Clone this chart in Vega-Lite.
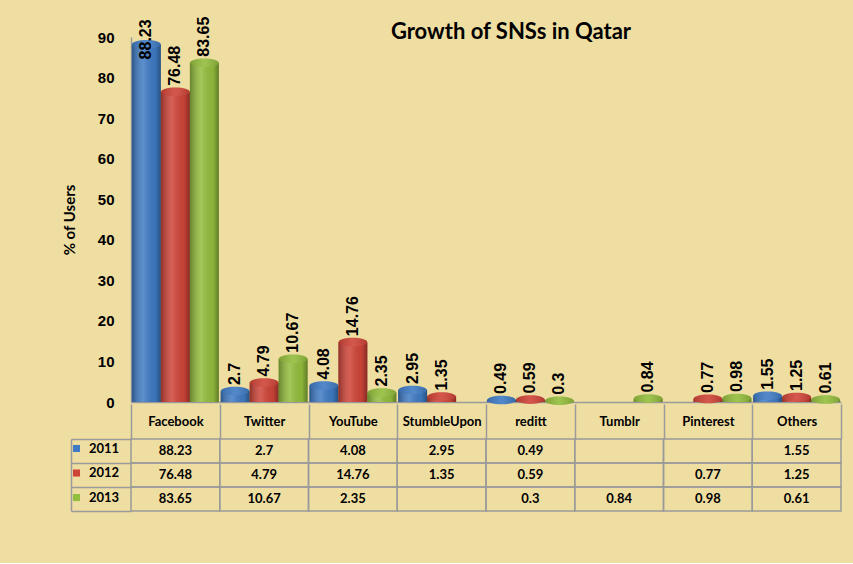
{
  "$schema": "https://vega.github.io/schema/vega-lite/v6.json",
  "background": "#efdea2",
  "padding": {"left": 62, "top": 16, "right": 13, "bottom": 51},
  "config": {"view": {"stroke": null}, "font": "Lato"},
  "datasets": {
    "sns": [
      {"sns": "Facebook", "year": "2011", "value": 88.23},
      {"sns": "Facebook", "year": "2012", "value": 76.48},
      {"sns": "Facebook", "year": "2013", "value": 83.65},
      {"sns": "Twitter", "year": "2011", "value": 2.7},
      {"sns": "Twitter", "year": "2012", "value": 4.79},
      {"sns": "Twitter", "year": "2013", "value": 10.67},
      {"sns": "YouTube", "year": "2011", "value": 4.08},
      {"sns": "YouTube", "year": "2012", "value": 14.76},
      {"sns": "YouTube", "year": "2013", "value": 2.35},
      {"sns": "StumbleUpon", "year": "2011", "value": 2.95},
      {"sns": "StumbleUpon", "year": "2012", "value": 1.35},
      {"sns": "StumbleUpon", "year": "2013", "value": null},
      {"sns": "reditt", "year": "2011", "value": 0.49},
      {"sns": "reditt", "year": "2012", "value": 0.59},
      {"sns": "reditt", "year": "2013", "value": 0.3},
      {"sns": "Tumblr", "year": "2011", "value": null},
      {"sns": "Tumblr", "year": "2012", "value": null},
      {"sns": "Tumblr", "year": "2013", "value": 0.84},
      {"sns": "Pinterest", "year": "2011", "value": null},
      {"sns": "Pinterest", "year": "2012", "value": 0.77},
      {"sns": "Pinterest", "year": "2013", "value": 0.98},
      {"sns": "Others", "year": "2011", "value": 1.55},
      {"sns": "Others", "year": "2012", "value": 1.25},
      {"sns": "Others", "year": "2013", "value": 0.61}
    ]
  },
  "data": {"name": "sns"},
  "spacing": 37,
  "bounds": "flush",
  "resolve": {"legend": {"fill": "independent", "color": "independent"}},
  "vconcat": [
    {
      "width": 710,
      "height": 365,
      "title": {"text": "Growth of SNSs in Qatar", "fontSize": 22, "font": "Lato", "fontWeight": "bold", "anchor": "middle", "dx": 25, "offset": -27, "color": "#000000"},
      "transform": [{"filter": "isValid(datum.value)"}],
      "encoding": {
        "x": {"field": "sns", "type": "nominal",
          "scale": {"domain": ["Facebook", "Twitter", "YouTube", "StumbleUpon", "reditt", "Tumblr", "Pinterest", "Others"], "paddingInner": 0, "paddingOuter": 0},
          "axis": {"labels": false, "ticks": false, "title": null, "domainColor": "#9a9a9a", "domainWidth": 1.5}},
        "xOffset": {"field": "year", "type": "nominal", "scale": {"domain": ["2011", "2012", "2013"], "paddingInner": 0, "paddingOuter": 0.03}},
        "y": {"field": "value", "type": "quantitative", "scale": {"domain": [0, 90], "nice": false},
          "axis": {"title": "% of Users", "titleFont": "Lato", "titleFontSize": 15, "titleFontWeight": "bold", "titleColor": "#000000", "titlePadding": 20,
            "values": [0, 10, 20, 30, 40, 50, 60, 70, 80, 90], "grid": false, "ticks": false, "labelPadding": 17,
            "labelFont": "Liberation Sans", "labelFontSize": 15, "labelFontWeight": "bold", "labelColor": "#000000",
            "domainColor": "#9a9a9a", "domainWidth": 1.5}}
      },
      "layer": [
        {
          "mark": {"type": "bar"},
          "encoding": {"color": {"field": "year", "type": "nominal", "scale": {"domain": ["2011", "2012", "2013"], "range": ["#3f7bc4", "#cf4438", "#93bd3c"]}, "legend": null}}
        },
        {
          "mark": {"type": "bar", "color": {"gradient": "linear", "x1": 0, "x2": 1, "y1": 0, "y2": 0,
            "stops": [{"offset": 0, "color": "rgba(0,0,0,0.3)"}, {"offset": 0.4, "color": "rgba(255,255,255,0.15)"}, {"offset": 0.8, "color": "rgba(0,0,0,0.05)"}, {"offset": 1, "color": "rgba(0,0,0,0.35)"}]}}
        },
        {
          "mark": {"type": "point", "shape": "M-1,0A1,0.3,0,1,1,1,0A1,0.3,0,1,1,-1,0Z", "size": 820, "filled": true, "opacity": 1, "strokeWidth": 0},
          "encoding": {"color": {"field": "year", "type": "nominal", "legend": null}}
        },
        {
          "mark": {"type": "point", "shape": "M-1,0A1,0.3,0,1,1,1,0A1,0.3,0,1,1,-1,0Z", "size": 820, "filled": true, "opacity": 1, "strokeWidth": 0,
            "color": {"gradient": "linear", "x1": 0, "x2": 1, "y1": 0, "y2": 0,
              "stops": [{"offset": 0, "color": "rgba(0,0,0,0.15)"}, {"offset": 0.5, "color": "rgba(255,255,255,0.1)"}, {"offset": 1, "color": "rgba(0,0,0,0.15)"}]}}
        },
        {
          "transform": [{"calculate": "datum.value > 85 ? 83 : datum.value", "as": "labelPos"}],
          "mark": {"type": "text", "angle": 270, "align": "left", "baseline": "middle", "dx": 6, "font": "Liberation Sans", "fontWeight": "bold", "fontSize": 16, "color": "#000000"},
          "encoding": {
            "y": {"field": "labelPos", "type": "quantitative"},
            "text": {"field": "value", "type": "quantitative", "format": ".4~g"}
          }
        }
      ]
    },
    {
      "width": 710,
      "height": 72,
      "encoding": {
        "x": {"field": "sns", "type": "nominal",
          "scale": {"domain": ["Facebook", "Twitter", "YouTube", "StumbleUpon", "reditt", "Tumblr", "Pinterest", "Others"], "paddingInner": 0, "paddingOuter": 0},
          "axis": {"orient": "top", "title": null, "domain": false, "tickBand": "extent", "tickSize": 35, "tickColor": "#9a9a9a", "tickWidth": 1.5,
            "labelPadding": -24, "labelFont": "Lato", "labelFontWeight": "bold", "labelFontSize": 13, "labelColor": "#000000", "labelAngle": 0}},
        "y": {"field": "year", "type": "nominal",
          "scale": {"domain": ["2011", "2012", "2013"], "paddingInner": 0, "paddingOuter": 0},
          "axis": {"title": null, "labels": false, "offset": 60, "domainColor": "#9a9a9a", "domainWidth": 1.5, "tickBand": "extent", "tickSize": -60, "tickColor": "#9a9a9a", "tickWidth": 1.5}}
      },
      "layer": [
        {
          "mark": {"type": "rect", "fillOpacity": 0, "stroke": "#9a9a9a", "strokeWidth": 1.5},
          "encoding": {
            "fill": {"field": "year", "type": "nominal", "scale": {"domain": ["2011", "2012", "2013"], "range": ["#3f7bc4", "#cf4438", "#93bd3c"]},
              "legend": {"orient": "left", "title": null, "offset": -53, "padding": 3, "symbolType": "square", "symbolSize": 50, "symbolOpacity": 1, "symbolStrokeWidth": 0,
                "labelFont": "Lato", "labelFontWeight": "bold", "labelFontSize": 13, "labelColor": "#000000", "rowPadding": 10.5, "labelOffset": 6}}
          }
        },
        {
          "transform": [{"filter": "isValid(datum.value)"}],
          "mark": {"type": "text", "font": "Lato", "fontWeight": "bold", "fontSize": 13, "color": "#000000"},
          "encoding": {"text": {"field": "value", "type": "quantitative", "format": ".4~g"}}
        }
      ]
    }
  ]
}
